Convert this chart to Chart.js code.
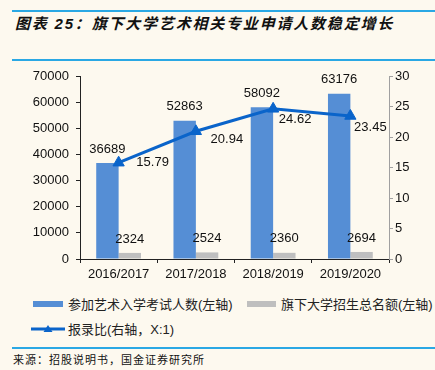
<!DOCTYPE html>
<html>
<head>
<meta charset="utf-8">
<script src="https://cdn.jsdelivr.net/npm/chart.js@4.4.1/dist/chart.umd.min.js"></script>
<style>
  html, body { margin: 0; padding: 0; }
  body { width: 435px; height: 370px; background: #FDF9EF; position: relative; overflow: hidden;
         font-family: "Liberation Sans", "Noto Sans CJK SC", sans-serif; }
  .hline { position: absolute; left: 12px; right: 0; height: 2px; background: #2AA8E4; }
  #title { position: absolute; left: 15px; top: 12px; font-size: 15px; font-weight: bold; font-style: italic;
           letter-spacing: 1.8px; color: #111; font-family: "Liberation Sans", "Noto Sans CJK SC", sans-serif; white-space: nowrap; }
  #source { position: absolute; left: 13px; top: 351px; font-size: 11px; letter-spacing: 1px; color: #111;
            font-family: "Noto Sans CJK SC", sans-serif; white-space: nowrap; }
  #wrap { position: absolute; left: 0; top: 0; width: 435px; height: 285px; }
  .leg { position: absolute; font-size: 13px; color: #222; white-space: nowrap; line-height: 16px; }
  .box { position: absolute; height: 6px; }
</style>
</head>
<body>
<div class="hline" style="top:10px"></div>
<div id="title">图表 25：旗下大学艺术相关专业申请人数稳定增长</div>
<div class="hline" style="top:59px"></div>
<div id="wrap"><canvas id="c" width="435" height="285"></canvas></div>

<div class="box" style="left:33px; top:301px; width:30px; background:#558ED5"></div>
<div class="leg" style="left:68px; top:297px">参加艺术入学考试人数(左轴)</div>
<div class="box" style="left:247px; top:301px; width:29px; background:#BFBFBF"></div>
<div class="leg" style="left:281px; top:297px">旗下大学招生总名额(左轴)</div>
<svg style="position:absolute; left:30px; top:323px" width="36" height="12">
  <line x1="1" y1="6" x2="35" y2="6" stroke="#0A64CA" stroke-width="3"/>
  <polygon points="18,2 22.5,9 13.5,9" fill="#0A64CA"/>
</svg>
<div class="leg" style="left:68px; top:322px">报录比(右轴，X:1)</div>

<div class="hline" style="top:347px"></div>
<div id="source">来源：招股说明书，国金证券研究所</div>

<script>
const categories = ["2016/2017", "2017/2018", "2018/2019", "2019/2020"];
const applicants = [36689, 52863, 58092, 63176];
const quota = [2324, 2524, 2360, 2694];
const ratio = [15.79, 20.94, 24.62, 23.45];
const leftTicks = [0, 10000, 20000, 30000, 40000, 50000, 60000, 70000];
const rightTicks = [0, 5, 10, 15, 20, 25, 30];

const FONT = "Liberation Sans, Arial, sans-serif";
// label offsets for the ratio line (style only)
const lineLabelOffsets = [[34, 0], [31, 8], [22, 11], [20, 11]];

const labelPlugin = {
  id: 'valueLabels',
  afterDatasetsDraw(chart) {
    const ctx = chart.ctx;
    ctx.save();
    ctx.font = "13px " + FONT;
    ctx.fillStyle = "#111";
    ctx.textAlign = "center";
    ctx.textBaseline = "middle";
    chart.data.datasets.forEach((ds, di) => {
      const meta = chart.getDatasetMeta(di);
      meta.data.forEach((el, i) => {
        const v = ds.data[i];
        if (ds.type === 'line') {
          const o = lineLabelOffsets[i];
          ctx.fillText(v.toFixed(2), el.x + o[0], el.y + o[1]);
        } else {
          ctx.fillText(String(v), el.x, el.y - 14);
        }
      });
    });
    ctx.restore();
  }
};

new Chart(document.getElementById('c'), {
  type: 'bar',
  data: {
    labels: categories,
    datasets: [
      { type: 'line', label: '报录比(右轴，X:1)', data: ratio, yAxisID: 'y1', order: 0,
        borderColor: '#0A64CA', backgroundColor: '#0A64CA', borderWidth: 3,
        pointStyle: 'triangle', pointRadius: 6.5, pointBorderWidth: 1, pointHoverRadius: 6.5,
        tension: 0, fill: false },
      { label: '参加艺术入学考试人数(左轴)', data: applicants, yAxisID: 'y', order: 1,
        backgroundColor: '#558ED5', categoryPercentage: 0.58, barPercentage: 1.0 },
      { label: '旗下大学招生总名额(左轴)', data: quota, yAxisID: 'y', order: 1,
        backgroundColor: '#BFBFBF', categoryPercentage: 0.58, barPercentage: 1.0 }
    ]
  },
  options: {
    responsive: false,
    animation: false,
    events: [],
    layout: { padding: { top: 76, left: 0, right: 0, bottom: 0 } },
    plugins: { legend: { display: false }, tooltip: { enabled: false }, title: { display: false } },
    scales: {
      x: {
        grid: { display: true, drawOnChartArea: false, drawTicks: true, tickLength: 4, color: '#222', offset: true },
        border: { display: true, color: '#222', width: 1 },
        ticks: { color: '#111', font: { size: 13, family: FONT }, padding: 4, maxRotation: 0 },
        afterFit(s) { s.height = 26; }
      },
      y: {
        position: 'left', min: 0, max: 70000,
        afterBuildTicks(s) { s.ticks = leftTicks.map(v => ({ value: v })); },
        grid: { display: true, drawOnChartArea: false, drawTicks: true, tickLength: 4, color: '#222' },
        border: { display: true, color: '#222', width: 1 },
        ticks: { color: '#111', font: { size: 13, family: FONT }, padding: 7, callback: v => String(v) },
        afterFit(s) { s.width = 80; }
      },
      y1: {
        position: 'right', min: 0, max: 30,
        afterBuildTicks(s) { s.ticks = rightTicks.map(v => ({ value: v })); },
        grid: { display: true, drawOnChartArea: false, drawTicks: true, tickLength: 4, color: '#A0A0A0' },
        border: { display: true, color: '#A0A0A0', width: 1 },
        ticks: { color: '#111', font: { size: 13, family: FONT }, padding: 2, callback: v => String(v) },
        afterFit(s) { s.width = 46; }
      }
    }
  },
  plugins: [labelPlugin]
});
</script>
</body>
</html>
